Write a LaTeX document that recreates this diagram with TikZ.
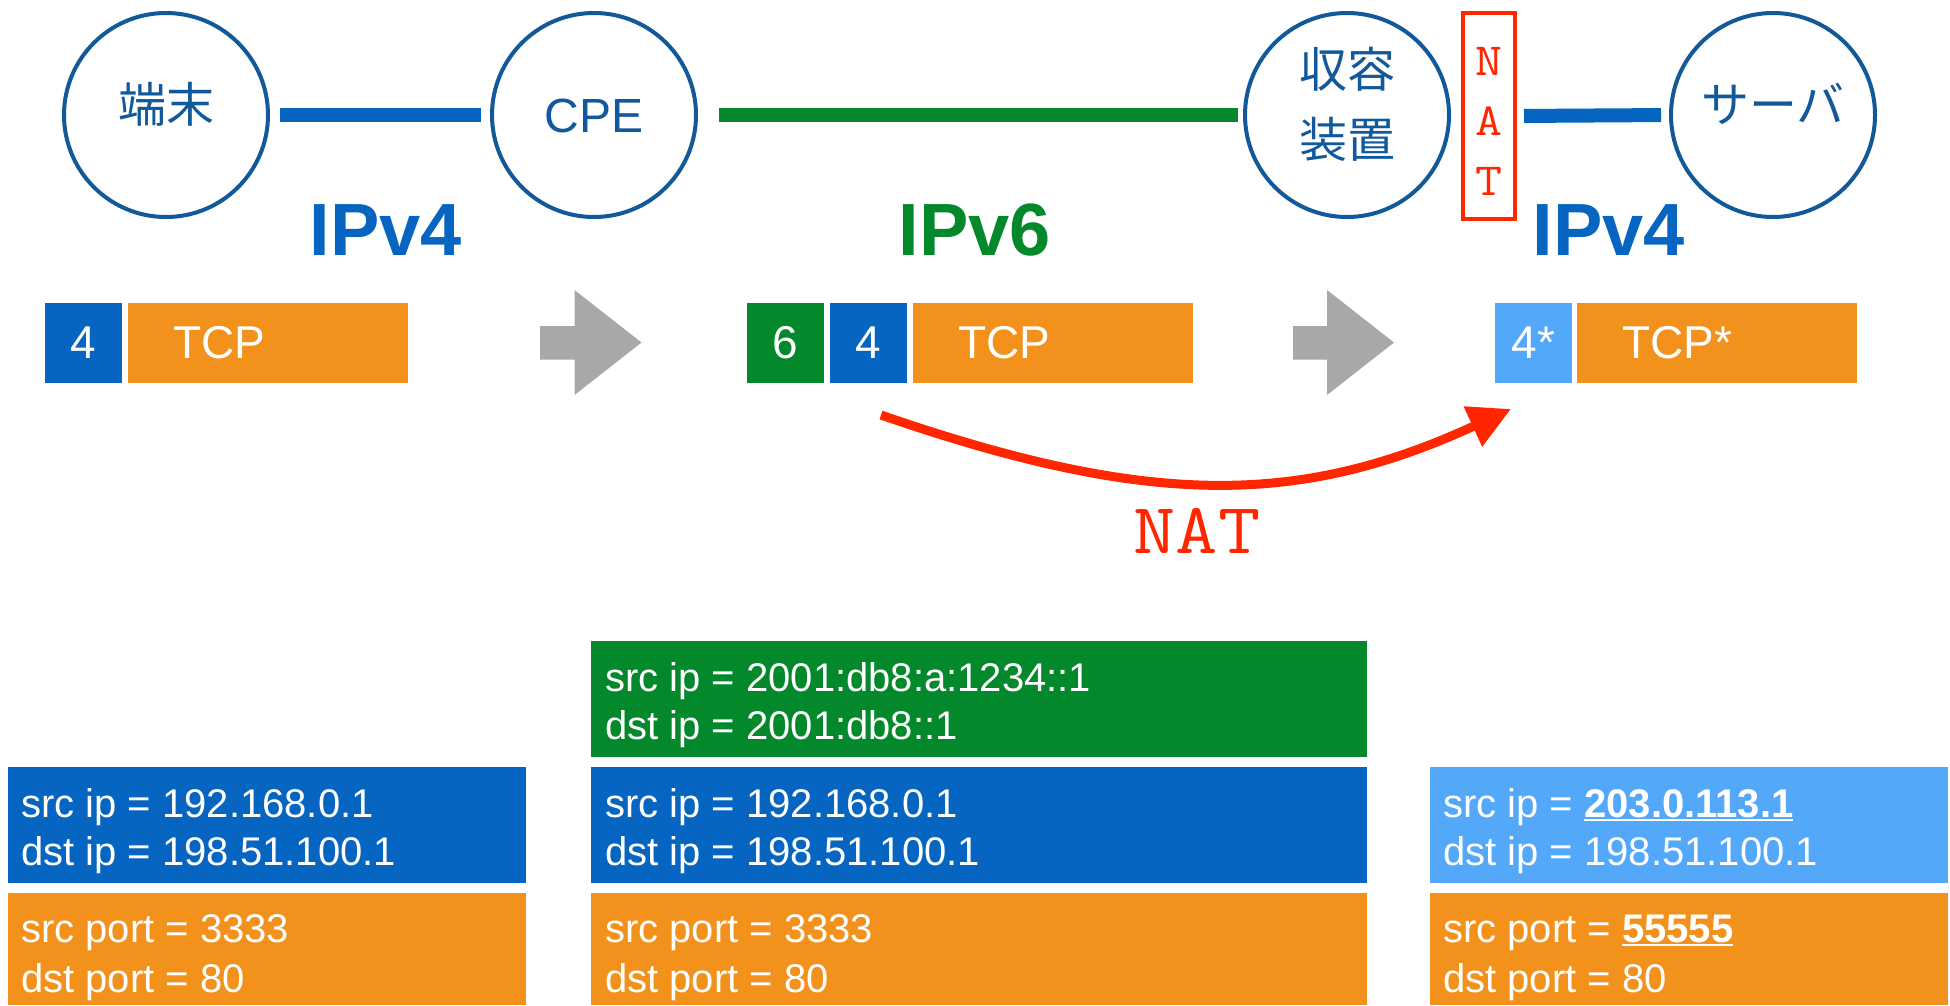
\documentclass[tikz,border=0pt]{standalone}
\usepackage{fontspec}
\setmainfont{Liberation Sans}
\newfontfamily\jpfont{Noto Sans CJK JP}
\newfontfamily\natfont{Latin Modern Mono}[FakeStretch=1.14]
\usetikzlibrary{arrows.meta}

\definecolor{pblue}{HTML}{0565C0}
\definecolor{pgreen}{HTML}{03882C}
\definecolor{porange}{HTML}{F2921D}
\definecolor{plight}{HTML}{54A8F9}
\definecolor{pgray}{HTML}{A6A9A8}
\definecolor{pred}{HTML}{FF2600}
\definecolor{cblue}{HTML}{12599B}

% bold text with a thick white underline
\newcommand\ulbf[1]{\setbox0=\hbox{\bfseries #1}\rlap{\rule[-4pt]{\wd0}{2.2pt}}\box0}

\begin{document}
\begin{tikzpicture}[x=1pt,y=-1pt,
  dev/.style={circle, draw=cblue, line width=4pt, minimum size=204pt, inner sep=0pt},
  devtext/.style={text=cblue, font=\jpfont\fontsize{48}{70}\selectfont, align=center, inner sep=0pt},
  link/.style={line width=14pt},
  natbox/.style={draw=pred, line width=4pt, minimum width=52pt, minimum height=206pt, inner sep=0pt},
  nattext/.style={text=pred, font=\natfont\fontsize{46}{60}\selectfont, align=center, inner sep=0pt},
  iplabel/.style={font=\bfseries\fontsize{74}{80}\selectfont, inner sep=0pt},
  pk/.style={anchor=north west, minimum height=80pt, inner sep=0pt, outer sep=0pt},
  pksmall/.style={pk, minimum width=77pt, text=white, font=\fontsize{46}{50}\selectfont},
  pkbig/.style={pk, minimum width=280pt, fill=porange},
  pktext/.style={anchor=west, inner sep=0pt, text=white, font=\fontsize{46}{50}\selectfont},
  hdr/.style={anchor=north west, inner sep=0pt, outer sep=0pt, minimum height=116pt},
  hdrline/.style={anchor=base west, inner sep=0pt, text=white, font=\fontsize{40}{48}\selectfont},
  natarrow/.style={draw=pred, line width=9pt, -{Triangle[length=42pt,width=42pt]}},
  stepper/.style={fill=pgray}
]
\useasboundingbox (0,0) rectangle (1950,1005);

% ---- devices ----
\node[dev] (term) at (166,115) {};
\node[dev] (cpe)  at (594,115) {};
\node[dev] (br)   at (1347,115) {};
\node[dev] (srv)  at (1773,115) {};
\node[devtext] at ([yshift=11pt]term.center) {端末};
\node[text=cblue, font=\fontsize{48}{50}\selectfont, inner sep=0pt] at ([yshift=-1pt]cpe.center) {CPE};
\node[devtext] at ([yshift=11pt]br.center) {収容\\装置};
\node[devtext] at ([yshift=11pt]srv.center) {サーバ};

% NAT marker beside the border relay
\node[natbox] (nat) at (1489,116) {};
\node[nattext] at ([yshift=-5pt]nat.center) {N\\A\\T};

% ---- links ----
\draw[link, pblue, shorten <=10pt, shorten >=9pt] (term.east) -- (cpe.west);
\draw[link, pgreen, shorten <=21pt, shorten >=5pt] (cpe.east) -- (br.west);
\draw[link, pblue, shorten <=7pt, shorten >=8pt] (nat.east) -- (srv.west);

% ---- protocol labels ----
\node[iplabel, text=pblue]  (ipa) at (386,230) {IPv4};
\node[iplabel, text=pgreen] (ipb) at (975,230) {IPv6};
\node[iplabel, text=pblue]  (ipc) at (1609,230) {IPv4};

% ---- packets ----
\node[pksmall, fill=pblue] (p1v4) at (45,303) {4};
\node[pkbig] (p1tcp) at (128,303) {};
\node[pktext] at ([xshift=45pt]p1tcp.west) {TCP};

\node[pksmall, fill=pgreen] (p2v6) at (747,303) {6};
\node[pksmall, fill=pblue] (p2v4) at (830,303) {4};
\node[pkbig] (p2tcp) at (913,303) {};
\node[pktext] at ([xshift=45pt]p2tcp.west) {TCP};

\node[pksmall, fill=plight] (p3v4) at (1495,303) {4*};
\node[pkbig] (p3tcp) at (1577,303) {};
\node[pktext] at ([xshift=45pt]p3tcp.west) {TCP*};

% ---- step arrows ----
\fill[stepper] (540,326) -- (574.5,326) -- (574.5,290) -- (641.5,342.5) -- (574.5,395)
  -- (574.5,359.5) -- (540,359.5) -- cycle;
\fill[stepper] (1293,326) -- (1327,326) -- (1327,290) -- (1394,342.5) -- (1327,395)
  -- (1327,359.5) -- (1293,359.5) -- cycle;

% ---- NAT translation ----
\coordinate (natfrom) at (881,415);
\coordinate (natto) at (1511,409);
\draw[natarrow] (natfrom) .. controls (1150,508) and (1300,506) .. (natto);
\node[text=pred, font=\natfont\fontsize{72}{72}\selectfont, inner sep=0pt] (natlbl) at (1197,531) {NAT};

% ---- header details ----
\node[hdr, fill=pblue, minimum width=518pt] (h1ip) at (8,767) {};
\node[hdrline] at ([xshift=13pt,yshift=-50pt]h1ip.north west) {src ip = 192.168.0.1};
\node[hdrline] at ([xshift=13pt,yshift=-98pt]h1ip.north west) {dst ip = 198.51.100.1};
\node[hdr, fill=porange, minimum width=518pt, minimum height=112pt] (h1tcp) at (8,893) {};
\node[hdrline] at ([xshift=13pt,yshift=-49pt]h1tcp.north west) {src port = 3333};
\node[hdrline] at ([xshift=13pt,yshift=-99pt]h1tcp.north west) {dst port = 80};

\node[hdr, fill=pgreen, minimum width=776pt] (h2v6) at (591,641) {};
\node[hdrline] at ([xshift=14pt,yshift=-50pt]h2v6.north west) {src ip = 2001:db8:a:1234::1};
\node[hdrline] at ([xshift=14pt,yshift=-98pt]h2v6.north west) {dst ip = 2001:db8::1};
\node[hdr, fill=pblue, minimum width=776pt] (h2ip) at (591,767) {};
\node[hdrline] at ([xshift=14pt,yshift=-50pt]h2ip.north west) {src ip = 192.168.0.1};
\node[hdrline] at ([xshift=14pt,yshift=-98pt]h2ip.north west) {dst ip = 198.51.100.1};
\node[hdr, fill=porange, minimum width=776pt, minimum height=112pt] (h2tcp) at (591,893) {};
\node[hdrline] at ([xshift=14pt,yshift=-49pt]h2tcp.north west) {src port = 3333};
\node[hdrline] at ([xshift=14pt,yshift=-99pt]h2tcp.north west) {dst port = 80};

\node[hdr, fill=plight, minimum width=518pt] (h3ip) at (1430,767) {};
\node[hdrline] at ([xshift=13pt,yshift=-50pt]h3ip.north west) {src ip = \ulbf{203.0.113.1}};
\node[hdrline] at ([xshift=13pt,yshift=-98pt]h3ip.north west) {dst ip = 198.51.100.1};
\node[hdr, fill=porange, minimum width=518pt, minimum height=112pt] (h3tcp) at (1430,893) {};
\node[hdrline] at ([xshift=13pt,yshift=-49pt]h3tcp.north west) {src port = \ulbf{55555}};
\node[hdrline] at ([xshift=13pt,yshift=-99pt]h3tcp.north west) {dst port = 80};
\end{tikzpicture}
\end{document}
